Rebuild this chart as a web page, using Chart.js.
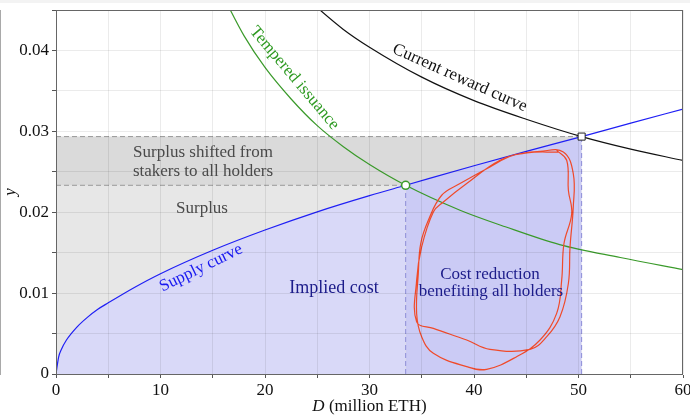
<!DOCTYPE html>
<html>
<head>
<meta charset="utf-8">
<script src="https://cdn.jsdelivr.net/npm/chart.js@4.4.1/dist/chart.umd.min.js"></script>
<style>
  html, body { margin: 0; padding: 0; background: #fff; }
  #strip { position: absolute; left: 0; top: 0; width: 690px; height: 3px; background: #f3f3f3; }
</style>
</head>
<body>
<div id="strip"></div>
<canvas id="chart" width="690" height="416"></canvas>
<script>
// values (D in million ETH, y as yield)
const supplyD = [0, 0.25, 0.5, 1, 2, 3, 4, 5, 7.5, 10, 15, 20, 25, 30, 33.46, 40, 45, 50.3, 55, 60];
const supplyY = [0, 0.0021, 0.0030, 0.0042, 0.0058, 0.0070, 0.0080, 0.0088, 0.0107, 0.0124, 0.0153, 0.0178, 0.02005, 0.02205, 0.02333, 0.02575, 0.02753, 0.02935, 0.03102, 0.03275];

const temperedD = [16, 18, 20, 22.5, 25, 27.5, 30, 33.46, 38.66, 43, 48.2, 54, 60];
const temperedY = [0.0467, 0.0418, 0.0379, 0.0340, 0.0307, 0.0281, 0.0259, 0.02333, 0.02025, 0.0182, 0.0160, 0.0144, 0.0129];

const rewardD = [24, 27.5, 30, 35, 40, 45, 50.3, 55, 60];
const rewardY = [0.0464, 0.0426, 0.0404, 0.0367, 0.0338, 0.0315, 0.02935, 0.0278, 0.0264];

// equilibrium points
const temperedPoint = [33.46, 0.02333];
const currentPoint = [50.3, 0.02935];

// hand drawn loop around the annotation
const loopD = [47.91, 48.87, 49.03, 49.35, 48.61, 48.39, 47.91, 46.32, 44.08, 41.21, 39.30, 36.11, 34.99, 34.51, 34.67, 34.90, 35.63, 36.91, 38.66, 41.53, 43.76, 46.32, 48.55, 49.50, 49.50, 49.19, 49.03, 48.23, 46.96, 45.36, 41.53, 39.30, 36.11, 34.51, 34.51, 34.99, 36.11, 37.07, 39.30, 42.49, 45.04, 48.07];
const loopY = [0.02765, 0.02642, 0.02272, 0.01984, 0.01613, 0.01160, 0.00749, 0.00420, 0.00214, 0.00058, 0.00091, 0.00255, 0.00461, 0.00749, 0.01243, 0.01613, 0.01901, 0.02210, 0.02354, 0.02560, 0.02704, 0.02753, 0.02744, 0.02478, 0.02066, 0.01572, 0.01119, 0.00708, 0.00461, 0.00305, 0.00305, 0.00420, 0.00564, 0.00646, 0.01160, 0.01572, 0.02004, 0.02127, 0.02354, 0.02642, 0.02733, 0.02744];

const xTicksMax = 60;
const yTicksMax = 0.045;

const FONT = "'Liberation Serif', 'DejaVu Serif', serif";

const pts = (xs, ys) => xs.map((x, i) => ({ x: x, y: ys[i] }));
const supplyAll = pts(supplyD, supplyY);
const supplyLeft = supplyAll.filter(p => p.x <= temperedPoint[0]);
const supplyRight = supplyAll.filter(p => p.x >= temperedPoint[0] && p.x <= currentPoint[0]);

const annotations = {
  id: 'annotations',
  afterDraw(chart) {
    const ctx = chart.ctx;
    const a = chart.chartArea;
    ctx.save();
    // plot frame
    ctx.strokeStyle = '#666';
    ctx.lineWidth = 1;
    ctx.strokeRect(a.left + 0.5, a.top + 0.5, a.right - a.left - 1, a.bottom - a.top);

    const put = (s, x, y, color, size, angle, style) => {
      ctx.save();
      ctx.translate(x, y);
      ctx.rotate((angle || 0) * Math.PI / 180);
      ctx.font = (style || '') + ' ' + size + 'px ' + FONT;
      ctx.fillStyle = color;
      ctx.textAlign = 'center';
      ctx.textBaseline = 'alphabetic';
      ctx.fillText(s, 0, 0);
      ctx.restore();
    };

    put('Surplus shifted from', 203, 157, '#4a4a4a', 17);
    put('stakers to all holders', 203, 176, '#4a4a4a', 17);
    put('Surplus', 202, 213, '#4a4a4a', 17);
    put('Implied cost', 334, 293, '#1c1c8a', 18);
    put('Cost reduction', 490, 279, '#1c1c8a', 17);
    put('benefiting all holders', 491, 296, '#1c1c8a', 17);
    put('Supply curve', 203, 272, '#1a1af0', 17, -26);
    put('Tempered issuance', 291, 81, '#2e9a22', 17, 50);
    put('Current reward curve', 458, 82, '#111', 17, 24);

    // axis titles
    ctx.fillStyle = '#111';
    ctx.textBaseline = 'alphabetic';
    ctx.font = 'italic 17px ' + FONT;
    const wD = ctx.measureText('D').width;
    ctx.font = '17px ' + FONT;
    const rest = ' (million ETH)';
    const wR = ctx.measureText(rest).width;
    const cx = (a.left + a.right) / 2;
    let x0 = cx - (wD + wR) / 2;
    ctx.textAlign = 'left';
    ctx.font = 'italic 17px ' + FONT;
    ctx.fillText('D', x0, 411);
    ctx.font = '17px ' + FONT;
    ctx.fillText(rest, x0 + wD, 411);

    ctx.save();
    ctx.translate(15, (a.top + a.bottom) / 2);
    ctx.rotate(-Math.PI / 2);
    ctx.textAlign = 'center';
    ctx.font = 'italic 17px ' + FONT;
    ctx.fillText('y', 0, 0);
    ctx.restore();
    ctx.restore();
  }
};

new Chart(document.getElementById('chart'), {
  type: 'line',
  data: {
    datasets: [
      {
        // band between the two equilibrium yields
        data: [{ x: 0, y: currentPoint[1] }, { x: currentPoint[0], y: currentPoint[1] }],
        fill: 'origin', backgroundColor: '#dadada',
        borderColor: '#9a9a9a', borderWidth: 1, borderDash: [5, 3],
        pointRadius: 0, order: 10
      },
      {
        data: [{ x: 0, y: temperedPoint[1] }, { x: temperedPoint[0], y: temperedPoint[1] }],
        fill: 'origin', backgroundColor: '#e7e7e7',
        borderColor: '#9a9a9a', borderWidth: 1, borderDash: [5, 3],
        pointRadius: 0, order: 9
      },
      {
        data: supplyLeft, fill: 'origin', backgroundColor: '#d9d9f8',
        borderWidth: 0, pointRadius: 0, cubicInterpolationMode: 'monotone', order: 8
      },
      {
        data: supplyRight, fill: 'origin', backgroundColor: '#cbcbf5',
        borderWidth: 0, pointRadius: 0, cubicInterpolationMode: 'monotone', order: 7
      },
      {
        data: [{ x: temperedPoint[0], y: 0 }, { x: temperedPoint[0], y: temperedPoint[1] }],
        borderColor: '#8c8cd8', borderWidth: 1, borderDash: [5, 3], pointRadius: 0, order: 5
      },
      {
        data: [{ x: currentPoint[0], y: 0 }, { x: currentPoint[0], y: currentPoint[1] }],
        borderColor: '#8c8cd8', borderWidth: 1, borderDash: [5, 3], pointRadius: 0, order: 5
      },
      {
        label: 'Supply curve', data: supplyAll, borderColor: '#1f1ff5', borderWidth: 1.2,
        pointRadius: 0, cubicInterpolationMode: 'monotone', order: 3
      },
      {
        label: 'Tempered issuance', data: pts(temperedD, temperedY), borderColor: '#3a9a2a', borderWidth: 1.2,
        pointRadius: 0, cubicInterpolationMode: 'monotone', order: 3
      },
      {
        label: 'Current reward curve', data: pts(rewardD, rewardY), borderColor: '#111', borderWidth: 1.2,
        pointRadius: 0, cubicInterpolationMode: 'monotone', order: 3
      },
      {
        data: pts(loopD, loopY), borderColor: '#f04a2a', borderWidth: 1.2,
        pointRadius: 0, tension: 0.4, order: 2
      },
      {
        data: [{ x: temperedPoint[0], y: temperedPoint[1] }], showLine: false,
        pointStyle: 'circle', pointRadius: 4, pointBackgroundColor: '#fff',
        pointBorderColor: '#3a9a2a', pointBorderWidth: 1.5, order: 1
      },
      {
        data: [{ x: currentPoint[0], y: currentPoint[1] }], showLine: false,
        pointStyle: 'rect', pointRadius: 5, pointBackgroundColor: '#fff',
        pointBorderColor: '#222', pointBorderWidth: 1, order: 1
      }
    ]
  },
  options: {
    responsive: false,
    animation: false,
    layout: { padding: { top: 10, right: 7, left: 0, bottom: 0 } },
    plugins: { legend: { display: false }, tooltip: { enabled: false } },
    scales: {
      x: {
        type: 'linear', min: 0, max: xTicksMax,
        ticks: {
          stepSize: 5, color: '#111', padding: 2, maxRotation: 0,
          font: { family: FONT, size: 17 },
          callback: v => (v % 10 === 0 ? String(v) : '')
        },
        grid: { color: 'rgba(0,0,0,0.08)', z: 1, tickLength: 4, tickColor: '#555' },
        border: { color: '#555', width: 1 },
        afterFit(scale) { scale.height = 42; scale.paddingLeft = 0; scale.paddingRight = 0; }
      },
      y: {
        type: 'linear', min: 0, max: yTicksMax,
        ticks: {
          stepSize: 0.005, color: '#111', padding: 3,
          font: { family: FONT, size: 17 },
          callback: v => {
            const r = Math.round(v * 100);
            if (Math.abs(v * 100 - r) > 1e-6) return '';
            return r === 0 ? '0' : (r / 100).toFixed(2);
          }
        },
        grid: { color: 'rgba(0,0,0,0.08)', z: 1, tickLength: 4, tickColor: '#555' },
        border: { color: '#555', width: 1 },
        afterFit(scale) { scale.width = 56; scale.paddingTop = 0; scale.paddingBottom = 0; }
      }
    }
  },
  plugins: [annotations]
});
</script>
</body>
</html>
